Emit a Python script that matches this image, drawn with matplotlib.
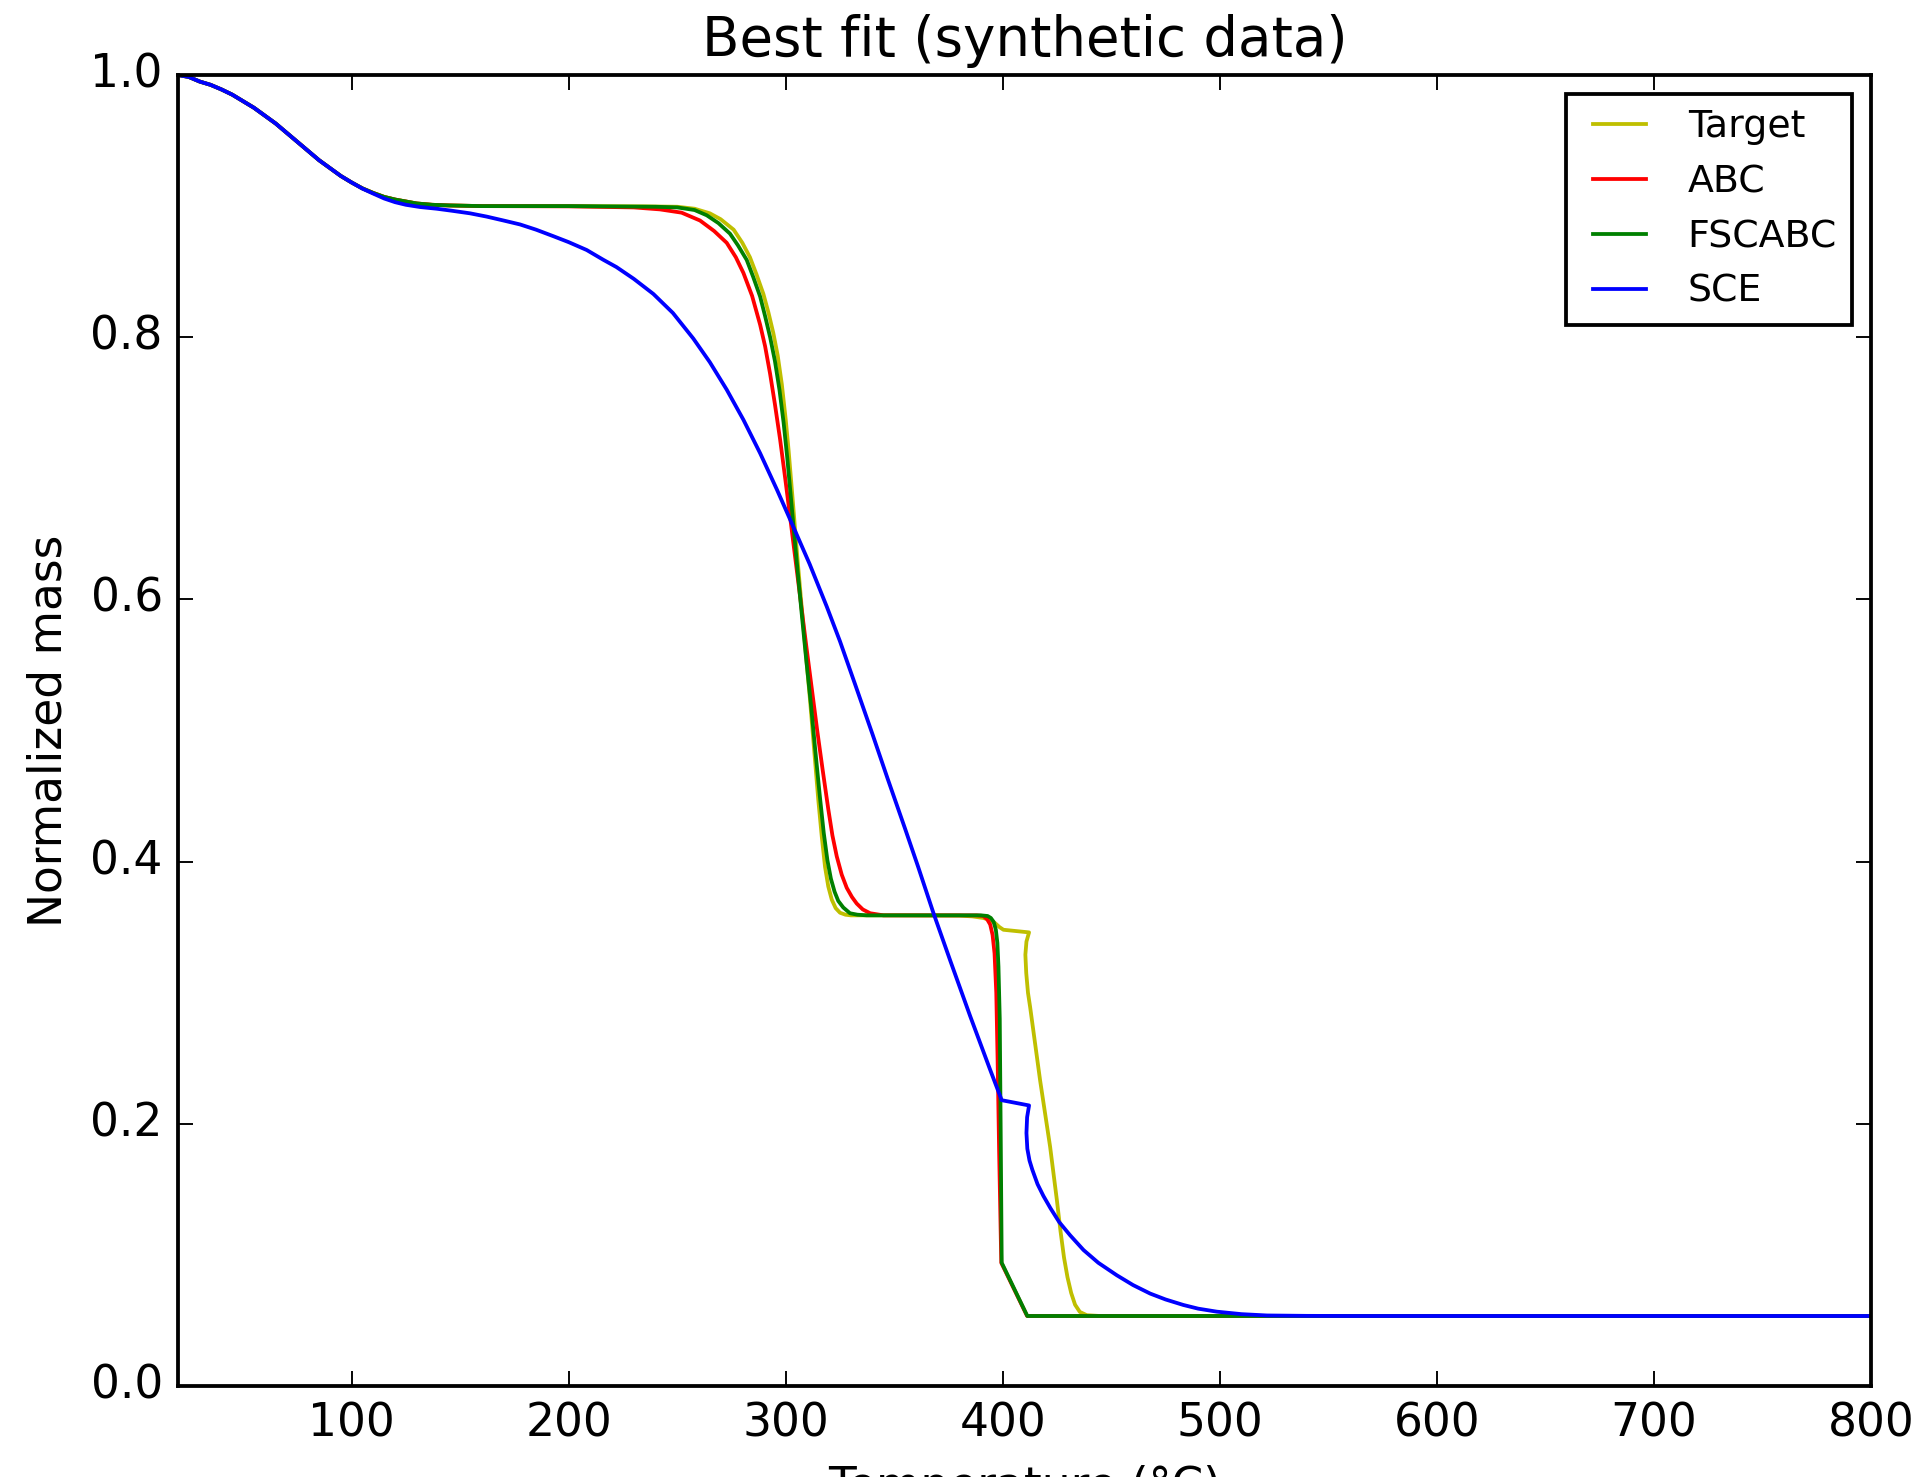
import matplotlib
matplotlib.use("Agg")
import matplotlib.pyplot as plt

# ---------------- data ----------------
common_x = [20, 25, 30, 35, 40, 45, 50, 55, 60, 65, 70, 75, 80, 85, 90, 95, 100, 105,
            110, 115, 120, 125, 130, 137, 145, 160]
common_y = [1.0, 0.9985, 0.995, 0.9925, 0.989, 0.985, 0.980, 0.975, 0.969, 0.963, 0.956,
            0.949, 0.942, 0.935, 0.929, 0.923, 0.918, 0.9135, 0.910, 0.907, 0.905, 0.9035,
            0.902, 0.901, 0.9005, 0.900]

target_x = [200, 235, 250, 258, 265, 270, 276, 280, 283.5, 286.5, 289.7, 292, 294.3,
            296.3, 298.2, 300, 301.3, 303.3, 305.3, 307.3, 309.3, 311.2, 313.1, 315,
            316.6, 318.1, 319.6, 321.2, 323, 325, 327.5, 330, 350, 380, 386, 391, 394,
            396.5, 398.5, 400.3, 412.1, 410.9, 410.4, 410.8, 411.6, 412.6, 417.2, 421.8,
            424.9, 426.6, 428.2, 429.8, 431.5, 433.3, 435.5, 438.7, 444.8, 800]
target_y = [0.900, 0.8998, 0.8995, 0.898, 0.8945, 0.890, 0.882, 0.872, 0.861, 0.848, 0.833,
            0.819, 0.803, 0.786, 0.764, 0.737, 0.714, 0.674, 0.633, 0.595, 0.558, 0.523,
            0.485, 0.447, 0.419, 0.396, 0.381, 0.371, 0.3645, 0.361, 0.3595, 0.359, 0.359,
            0.3588, 0.3582, 0.357, 0.3555, 0.353, 0.350, 0.348, 0.346, 0.339, 0.329, 0.315,
            0.300, 0.289, 0.233, 0.1825, 0.142, 0.118, 0.098, 0.083, 0.071, 0.062, 0.0565,
            0.054, 0.0534, 0.0534]

abc_x = [200, 230, 242, 252, 260.5, 267, 272.8, 277, 280.5, 284.5, 288.2, 290.5, 292.8,
         295, 297.4, 299.7, 302, 304.5, 307, 309.5, 312, 314.5, 317, 319.6, 321.5, 323.5,
         325.8, 328.1, 330.5, 332.7, 335.5, 338.9, 345, 388, 391, 392.8, 394.2, 395.3,
         396.2, 397, 397.6, 398.3, 399.3, 411.2, 800]
abc_y = [0.8998, 0.899, 0.8975, 0.895, 0.889, 0.881, 0.872, 0.861, 0.849, 0.8315, 0.8095,
         0.793, 0.772, 0.749, 0.722, 0.693, 0.663, 0.630, 0.597, 0.564, 0.532, 0.500,
         0.470, 0.440, 0.420, 0.404, 0.390, 0.380, 0.373, 0.368, 0.3635, 0.3606, 0.359,
         0.359, 0.3585, 0.356, 0.352, 0.344, 0.330, 0.300, 0.250, 0.180, 0.094, 0.0534,
         0.0534]

fscabc_x = [200, 240, 250, 258, 263.6, 269, 274.3, 278, 282, 285, 288.2, 290.5, 292.8,
            295, 297.1, 299, 300.7, 302.8, 305, 307.3, 309.5, 311.6, 313.6, 315.7, 317.5,
            319.2, 320.8, 322.5, 324.2, 326.5, 329.6, 333, 337.3, 390, 393, 394.5, 395.8,
            396.8, 397.5, 398, 398.6, 399, 399.5, 411.3, 800]
fscabc_y = [0.900, 0.8995, 0.899, 0.897, 0.893, 0.887, 0.879, 0.870, 0.859, 0.846, 0.831,
            0.816, 0.800, 0.782, 0.760, 0.735, 0.708, 0.670, 0.630, 0.590, 0.553, 0.520,
            0.485, 0.450, 0.422, 0.401, 0.387, 0.377, 0.370, 0.365, 0.3606, 0.3595, 0.359,
            0.359, 0.3585, 0.357, 0.354, 0.348, 0.338, 0.320, 0.280, 0.200, 0.094, 0.0534,
            0.0534]

sce_x = [20, 25, 30, 35, 40, 45, 50, 55, 60, 65, 70, 75, 80, 85, 90, 95, 100, 105, 110,
         115, 120, 125, 131.5, 139.2, 146, 154.5, 162.2, 170, 177.6, 185, 193, 200, 208.3,
         216, 222, 230, 239, 248, 257.4, 265, 272.8, 280.5, 288.2, 296, 302, 306.5, 311,
         318.9, 325, 332, 340, 347, 355, 361, 368, 376, 385, 394, 399.5, 412.1, 411.2,
         410.9, 411.3, 412.3, 413.6, 416, 418.7, 422, 426, 431, 437.2, 444, 452.5, 460,
         467.9, 475, 483.2, 490, 498.6, 510, 521.7, 540, 560, 800]
sce_y = [1.0, 0.9985, 0.995, 0.9925, 0.989, 0.985, 0.980, 0.975, 0.969, 0.963, 0.956,
         0.949, 0.942, 0.935, 0.929, 0.923, 0.918, 0.9133, 0.9095, 0.9058, 0.903, 0.901,
         0.8993, 0.898, 0.8965, 0.8945, 0.892, 0.889, 0.886, 0.882, 0.877, 0.8725, 0.8665,
         0.859, 0.8535, 0.8445, 0.833, 0.8185, 0.799, 0.781, 0.760, 0.737, 0.7115, 0.6835,
         0.661, 0.644, 0.627, 0.5945, 0.568, 0.535, 0.497, 0.463, 0.425, 0.396, 0.361,
         0.3235, 0.282, 0.242, 0.218, 0.214, 0.205, 0.193, 0.181, 0.172, 0.165, 0.154,
         0.145, 0.1355, 0.125, 0.115, 0.1037, 0.094, 0.0845, 0.077, 0.0705, 0.066, 0.0618,
         0.059, 0.0567, 0.0548, 0.0538, 0.0535, 0.0534, 0.0534]

series_names = ["Target", "ABC", "FSCABC", "SCE"]
series_colors = ["y", "r", "g", "b"]
x_ticks = [100, 200, 300, 400, 500, 600, 700, 800]
y_ticks = [0.0, 0.2, 0.4, 0.6, 0.8, 1.0]

# ---------------- figure ----------------
plt.style.use("classic")
DPI = 273
W, H = 1926, 1477
fig = plt.figure(figsize=(W / DPI, H / DPI), dpi=DPI, facecolor="white")
ax = fig.add_axes([178 / W, (H - 1386) / H, (1871 - 178) / W, (1386 - 75) / H])

curves = [
    (common_x + target_x, common_y + target_y),
    (common_x + abc_x, common_y + abc_y),
    (common_x + fscabc_x, common_y + fscabc_y),
    (sce_x, sce_y),
]
for (xs, ys), name, c in zip(curves, series_names, series_colors):
    ax.plot(xs, ys, color=c, label=name, linewidth=1.0, solid_joinstyle="round")

ax.set_xlim(20, 800)
ax.set_ylim(0.0, 1.0)
ax.set_xticks(x_ticks)
ax.set_yticks(y_ticks)
ax.set_xlabel("Temperature (°C)")
ax.set_ylabel("Normalized mass")
ax.set_title("Best fit (synthetic data)")
ax.legend(loc="upper right", fontsize=10)

fig.savefig("out.png", dpi=DPI, facecolor="white")
